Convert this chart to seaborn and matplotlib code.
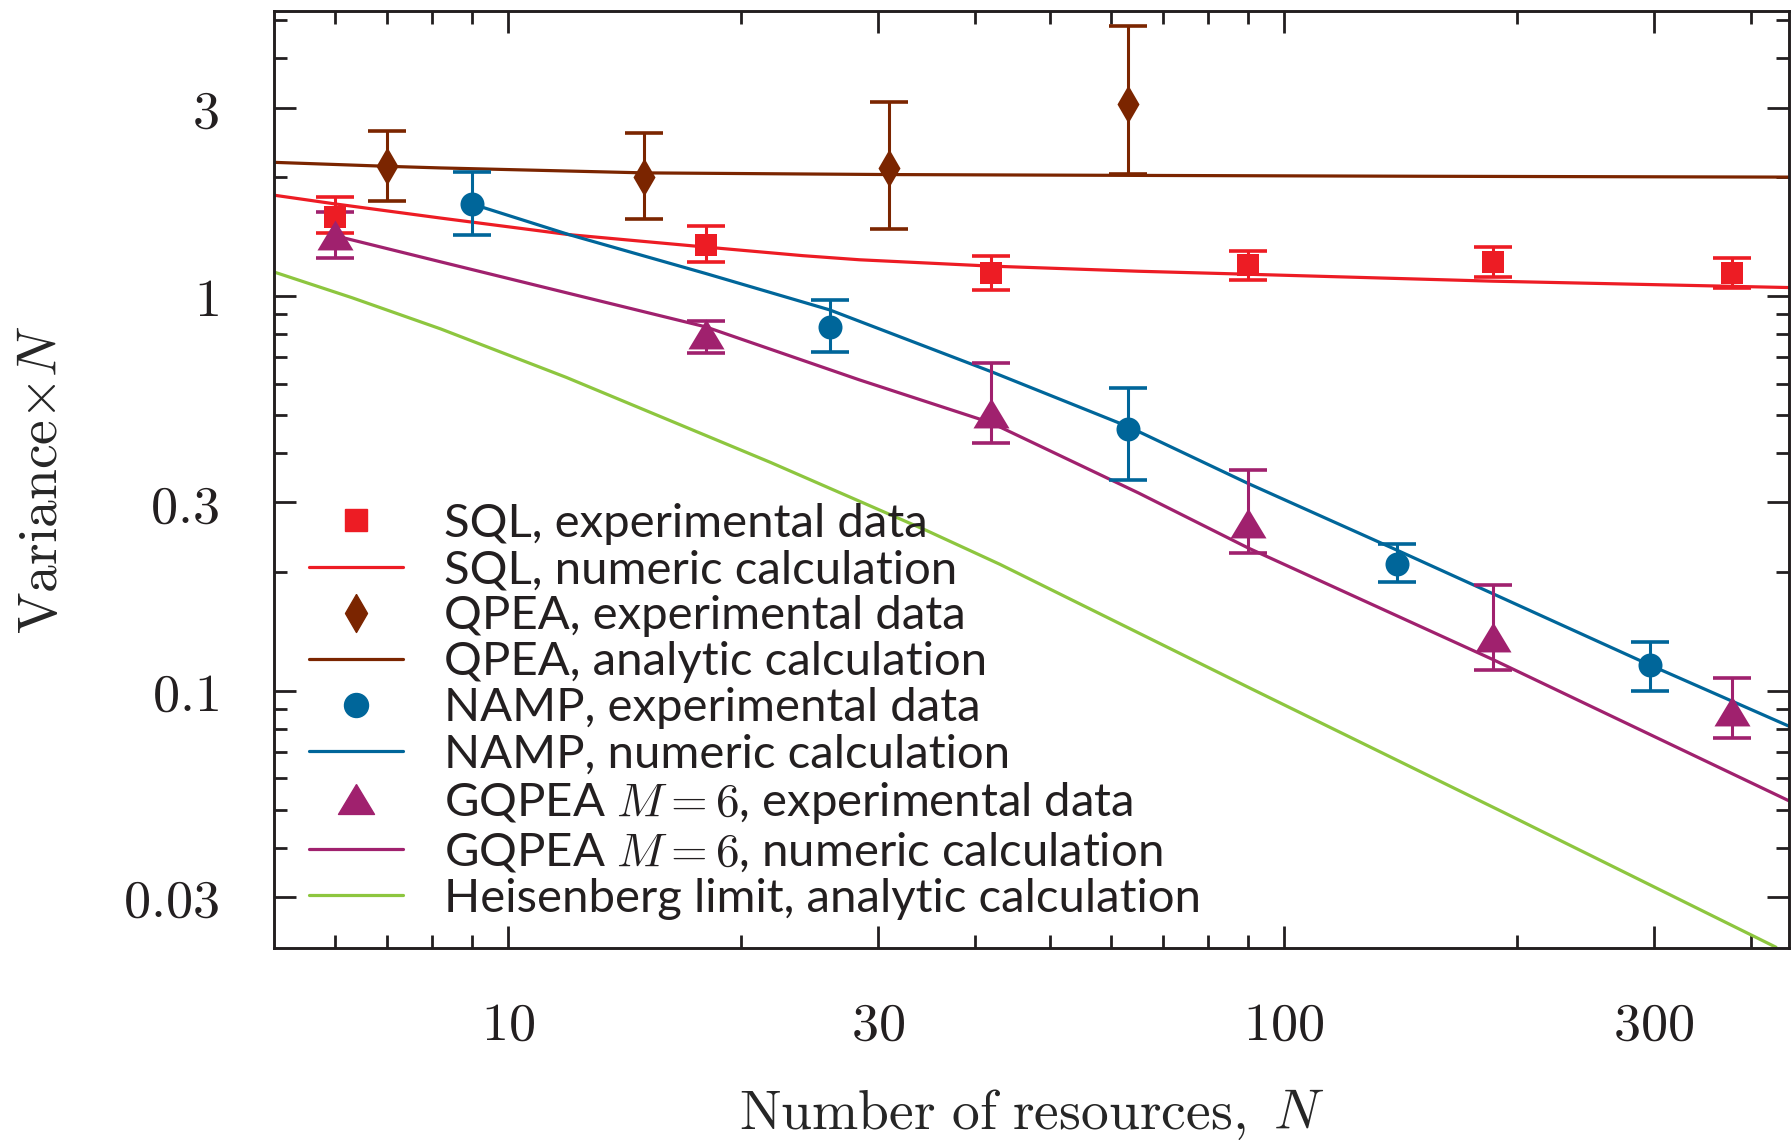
import numpy as np
import pandas as pd
import matplotlib
matplotlib.use("Agg")
import matplotlib.pyplot as plt
import seaborn as sns
from matplotlib.lines import Line2D
from matplotlib.markers import MarkerStyle
from matplotlib.ticker import FixedLocator, NullFormatter

# ---------------- data ----------------
sql_N = [6, 18, 42, 90, 186, 378]
sql_val = [1.585, 1.35, 1.14, 1.20, 1.22, 1.14]
sql_lo = [1.44, 1.22, 1.035, 1.10, 1.12, 1.05]
sql_hi = [1.78, 1.50, 1.26, 1.30, 1.33, 1.25]

qpea_N = [7, 15, 31, 63]
qpea_val = [2.13, 2.00, 2.11, 3.06]
qpea_lo = [1.74, 1.57, 1.48, 2.04]
qpea_hi = [2.62, 2.59, 3.10, 4.83]

namp_N = [9, 26, 63, 140, 297]
namp_val = [1.71, 0.835, 0.459, 0.21, 0.116]
namp_lo = [1.43, 0.722, 0.342, 0.188, 0.100]
namp_hi = [2.06, 0.977, 0.585, 0.236, 0.133]

gqpea_N = [6, 18, 42, 90, 186, 378]
gqpea_val = [1.43, 0.80, 0.506, 0.266, 0.137, 0.089]
gqpea_lo = [1.25, 0.718, 0.425, 0.223, 0.113, 0.076]
gqpea_hi = [1.63, 0.866, 0.675, 0.362, 0.185, 0.108]

sql_curve_N = [5, 6, 8.2, 12, 18, 24, 28.4, 42, 65, 90, 186, 450]
sql_curve_val = [1.80, 1.71, 1.575, 1.43, 1.33, 1.265, 1.235, 1.19, 1.155, 1.135, 1.09, 1.05]
qpea_curve_N = [5, 7, 8.2, 15, 31, 65, 150, 450]
qpea_curve_val = [2.18, 2.13, 2.11, 2.05, 2.03, 2.02, 2.01, 2.00]
namp_curve_N = [9, 12, 18, 26, 42, 63, 90, 140, 297, 450]
namp_curve_val = [1.71, 1.43, 1.14, 0.922, 0.643, 0.467, 0.335, 0.227, 0.116, 0.081]
gqpea_curve_N = [6, 8.2, 12, 18, 28.4, 42, 65, 90, 186, 450]
gqpea_curve_val = [1.42, 1.22, 1.015, 0.835, 0.613, 0.477, 0.317, 0.23, 0.12, 0.0524]
heis_N = [5, 6.3, 8.2, 11.9, 21.8, 34.6, 43.1, 91, 192, 431]
heis_val = [1.15, 0.99, 0.825, 0.622, 0.379, 0.255, 0.209, 0.101, 0.0492, 0.0224]

x_major = [10, 30, 100, 300]
x_major_labels = ["10", "30", "100", "300"]
x_minor = [6, 7, 8, 9, 20, 40, 50, 60, 70, 80, 90, 200, 400]
y_major = [0.03, 0.1, 0.3, 1, 3]
y_major_labels = ["0.03", "0.1", "0.3", "1", "3"]
y_minor = [0.04, 0.05, 0.06, 0.07, 0.08, 0.09, 0.2, 0.4, 0.5, 0.6, 0.7, 0.8, 0.9, 2, 4, 5]

labels = [
    "SQL, experimental data",
    "SQL, numeric calculation",
    "QPEA, experimental data",
    "QPEA, analytic calculation",
    "NAMP, experimental data",
    "NAMP, numeric calculation",
    "GQPEA $M=6$, experimental data",
    "GQPEA $M=6$, numeric calculation",
    "Heisenberg limit, analytic calculation",
]

# ---------------- style ----------------
RED = "#ED1C24"
BROWN = "#7B2500"
BLUE = "#00669A"
PURPLE = "#A0216E"
GREEN = "#8DC63F"
INK = "#231F20"

sns.set_theme(style="ticks")
plt.rcParams["font.family"] = ["Lato", "DejaVu Sans"]
plt.rcParams["mathtext.fontset"] = "cm"
plt.rcParams["text.color"] = INK
plt.rcParams["axes.edgecolor"] = INK

DPI = 100
fig = plt.figure(figsize=(1791 / DPI, 1142 / DPI), dpi=DPI)
fig.patch.set_facecolor("white")
ax = fig.add_axes([274 / 1791, 1 - 948 / 1142, (1789 - 274) / 1791, (948 - 11) / 1142])
ax.set_facecolor("white")
ax.set_xscale("log")
ax.set_yscale("log")

LW = 2.3
curves = [
    (sql_curve_N, sql_curve_val, RED),
    (qpea_curve_N, qpea_curve_val, BROWN),
    (namp_curve_N, namp_curve_val, BLUE),
    (gqpea_curve_N, gqpea_curve_val, PURPLE),
    (heis_N, heis_val, GREEN),
]
for xs, ys, c in curves:
    df = pd.DataFrame({"N": xs, "v": ys})
    sns.lineplot(data=df, x="N", y="v", ax=ax, color=c, lw=LW, sort=False,
                 estimator=None, zorder=2, legend=False)

sq = MarkerStyle("s")
dia = MarkerStyle([(0, 1), (0.58, 0), (0, -1), (-0.58, 0), (0, 1)])
circ = MarkerStyle("o")
tri = MarkerStyle([(0, 0.83), (1, -0.83), (-1, -0.83), (0, 0.83)])

PX = 72 / DPI
sets = [
    (sql_N, sql_val, sql_lo, sql_hi, RED, sq, 23 * PX),
    (qpea_N, qpea_val, qpea_lo, qpea_hi, BROWN, dia, 38 * PX),
    (namp_N, namp_val, namp_lo, namp_hi, BLUE, circ, 24 * PX),
    (gqpea_N, gqpea_val, gqpea_lo, gqpea_hi, PURPLE, tri, 36 * PX),
]
for xs, ys, lo, hi, c, m, ms in sets:
    ys_a = np.array(ys)
    err = [ys_a - np.array(lo), np.array(hi) - ys_a]
    ax.errorbar(xs, ys, yerr=err, fmt="none", ecolor=c, elinewidth=2.2,
                capsize=13.7, capthick=2.6, zorder=3)
    sns.scatterplot(x=xs, y=ys, ax=ax, marker=m, s=ms ** 2, color=c,
                    linewidth=0, zorder=4, legend=False)

ax.set_xlim(5, 448)
ax.set_ylim(0.0223, 5.27)

ax.xaxis.set_major_locator(FixedLocator(x_major))
ax.set_xticklabels(["$" + t + "$" for t in x_major_labels])
ax.xaxis.set_minor_locator(FixedLocator(x_minor))
ax.xaxis.set_minor_formatter(NullFormatter())
ax.yaxis.set_major_locator(FixedLocator(y_major))
ax.set_yticklabels(["$" + t + "$" for t in y_major_labels])
ax.yaxis.set_minor_locator(FixedLocator(y_minor))
ax.yaxis.set_minor_formatter(NullFormatter())

ax.tick_params(which="both", direction="in", top=True, right=True,
               color=INK, width=2.0, labelsize=39, labelcolor=INK)
ax.tick_params(which="major", length=15.8)
ax.tick_params(which="minor", length=9.4)
ax.tick_params(axis="x", which="major", pad=37)
ax.tick_params(axis="y", which="major", pad=40)
for s in ax.spines.values():
    s.set_linewidth(2.1)
    s.set_color(INK)
    s.set_visible(True)

ax.set_xlabel(r"$\mathrm{Number\ of\ resources,}\ N$", fontsize=40, labelpad=28)
ax.set_ylabel(r"$\mathrm{Variance}{\times}N$", fontsize=40, labelpad=40)

handles = [
    Line2D([], [], ls="none", marker=sq, color=RED, markersize=23 * PX),
    Line2D([], [], color=RED, lw=LW),
    Line2D([], [], ls="none", marker=dia, color=BROWN, markersize=38 * PX),
    Line2D([], [], color=BROWN, lw=LW),
    Line2D([], [], ls="none", marker=circ, color=BLUE, markersize=24 * PX),
    Line2D([], [], color=BLUE, lw=LW),
    Line2D([], [], ls="none", marker=tri, color=PURPLE, markersize=36 * PX),
    Line2D([], [], color=PURPLE, lw=LW),
    Line2D([], [], color=GREEN, lw=LW),
]
leg = fig.legend(handles, labels, loc="upper left",
                 bbox_to_anchor=(309 / 1791, 1 - 503 / 1142),
                 frameon=False, fontsize=34, handlelength=2.0,
                 handletextpad=0.85, labelspacing=0.087, borderpad=0,
                 borderaxespad=0)
for t in leg.get_texts():
    t.set_color(INK)

fig.savefig("out.png", dpi=DPI, facecolor="white")
